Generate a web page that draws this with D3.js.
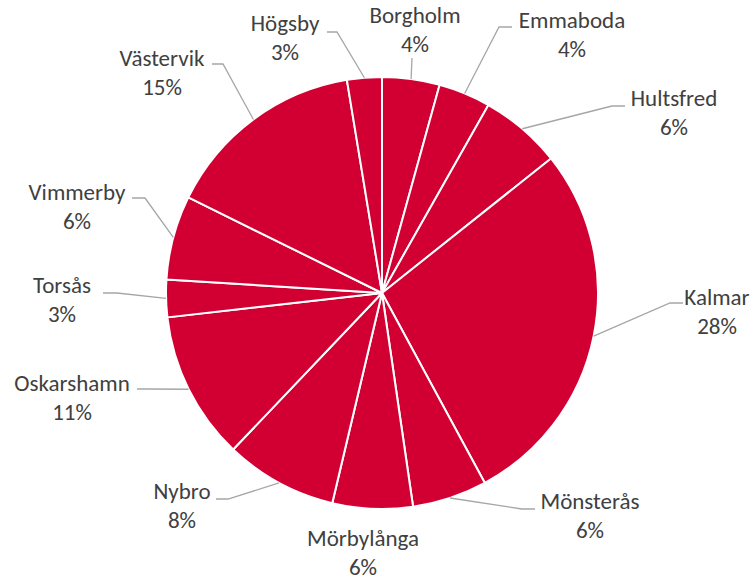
<!DOCTYPE html>
<html>
<head>
<meta charset="utf-8">
<script src="https://cdn.jsdelivr.net/npm/d3@7"></script>
<style>
  html, body { margin: 0; padding: 0; background: #fff; }
  svg { display: block; }
  text { font-family: Carlito, Lato, "Open Sans", sans-serif; font-size: 23px; fill: #404040; }
</style>
</head>
<body>
<svg id="chart" width="756" height="581"></svg>
<script>
// Share per municipality (Kalmar län), clockwise from 12 o'clock
const municipalities = ["Borgholm", "Emmaboda", "Hultsfred", "Kalmar", "Mönsterås", "Mörbylånga",
                        "Nybro", "Oskarshamn", "Torsås", "Vimmerby", "Västervik", "Högsby"];
const shares = [4.3, 3.9, 6.1, 27.8, 5.6, 6.0, 8.4, 11.1, 2.8, 6.3, 15.1, 2.6];

// Label placement: text centre (x, first-line y) and leader start/elbow points
const labelLayout = [
  { x: 415, y: 15,  start: [412, 58],  elbow: null },
  { x: 572, y: 20,  start: [512, 27],  elbow: [499, 27] },
  { x: 674, y: 98,  start: [625, 106], elbow: [612, 106] },
  { x: 717, y: 297, start: [683, 303], elbow: [670, 303] },
  { x: 590, y: 501, start: [535, 509], elbow: [522, 509] },
  { x: 363, y: 538, start: null,       elbow: null },
  { x: 182, y: 491, start: [216, 499], elbow: [228, 499] },
  { x: 72,  y: 383, start: [137, 389], elbow: [150, 389] },
  { x: 62,  y: 285, start: [103, 293], elbow: [117, 293] },
  { x: 77,  y: 192, start: [132, 198], elbow: [145, 198] },
  { x: 162, y: 58,  start: [212, 64],  elbow: [223, 64] },
  { x: 285, y: 23,  start: [327, 32],  elbow: [337, 32] }
];

const cx = 382, cy = 293, radius = 216;
const lineGap = 29;

const data = municipalities.map((name, i) => ({ name, value: shares[i], layout: labelLayout[i] }));
const total = d3.sum(shares);

const svg = d3.select("#chart");
const g = svg.append("g").attr("transform", `translate(${cx},${cy})`);

const pie = d3.pie().value(d => d.value).sort(null);
const arc = d3.arc().innerRadius(0).outerRadius(radius);
const arcs = pie(data);

g.selectAll("path.slice")
  .data(arcs)
  .join("path")
  .attr("class", "slice")
  .attr("d", arc)
  .attr("fill", "#D20032")
  .attr("stroke", "#ffffff")
  .attr("stroke-width", 2)
  .attr("stroke-linejoin", "round");

// Leader lines: from label, through elbow, to the arc edge at the slice midpoint
const edgePoint = a => {
  const m = (a.startAngle + a.endAngle) / 2;
  return [cx + radius * Math.sin(m), cy - radius * Math.cos(m)];
};

svg.append("g")
  .selectAll("polyline")
  .data(arcs.filter(a => a.data.layout.start))
  .join("polyline")
  .attr("points", a => {
    const L = a.data.layout;
    const pts = [L.start];
    if (L.elbow) pts.push(L.elbow);
    pts.push(edgePoint(a));
    return pts.map(p => p.join(",")).join(" ");
  })
  .attr("fill", "none")
  .attr("stroke", "#A6A6A6")
  .attr("stroke-width", 1.3);

// Two-line labels: name and rounded percentage
const labels = svg.append("g")
  .selectAll("g.label")
  .data(arcs)
  .join("g")
  .attr("class", "label")
  .attr("transform", a => `translate(${a.data.layout.x},${a.data.layout.y})`);

labels.append("text")
  .attr("text-anchor", "middle")
  .attr("dominant-baseline", "central")
  .text(a => a.data.name);

labels.append("text")
  .attr("text-anchor", "middle")
  .attr("dominant-baseline", "central")
  .attr("y", lineGap)
  .text(a => `${Math.round(a.data.value / total * 100)}%`);
</script>
</body>
</html>
